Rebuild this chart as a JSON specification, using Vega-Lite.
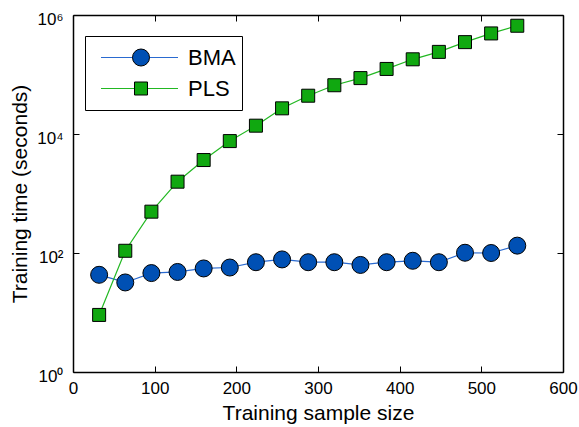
{
  "$schema": "https://vega.github.io/schema/vega-lite/v6.json",
  "width": 490,
  "height": 357,
  "autosize": {"type": "none"},
  "padding": {"left": 73, "top": 15, "right": 16, "bottom": 55},
  "background": "white",
  "config": {
    "font": "Liberation Sans",
    "view": {"stroke": null},
    "axis": {
      "grid": false,
      "domainColor": "black",
      "domainWidth": 1.5,
      "tickColor": "black",
      "tickWidth": 1,
      "tickSize": -6,
      "labelColor": "black",
      "labelFontSize": 17,
      "labelFont": "Liberation Sans",
      "titleFont": "Liberation Sans",
      "titleFontSize": 21,
      "titleFontWeight": "normal",
      "titleColor": "black",
      "labelFlush": false,
      "labelOverlap": false
    }
  },
  "data": {
    "values": [
      {"n": 32, "t": 43, "series": "BMA", "method": "BMA"},
      {"n": 64, "t": 32, "series": "BMA", "method": "BMA"},
      {"n": 96, "t": 46, "series": "BMA", "method": "BMA"},
      {"n": 128, "t": 48, "series": "BMA", "method": "BMA"},
      {"n": 160, "t": 55, "series": "BMA", "method": "BMA"},
      {"n": 192, "t": 57, "series": "BMA", "method": "BMA"},
      {"n": 224, "t": 70, "series": "BMA", "method": "BMA"},
      {"n": 256, "t": 78, "series": "BMA", "method": "BMA"},
      {"n": 288, "t": 70, "series": "BMA", "method": "BMA"},
      {"n": 320, "t": 70, "series": "BMA", "method": "BMA"},
      {"n": 352, "t": 63, "series": "BMA", "method": "BMA"},
      {"n": 384, "t": 70, "series": "BMA", "method": "BMA"},
      {"n": 416, "t": 74, "series": "BMA", "method": "BMA"},
      {"n": 448, "t": 70, "series": "BMA", "method": "BMA"},
      {"n": 480, "t": 101, "series": "BMA", "method": "BMA"},
      {"n": 512, "t": 100, "series": "BMA", "method": "BMA"},
      {"n": 544, "t": 133, "series": "BMA", "method": "BMA"},
      {"n": 32, "t": 9.1, "series": "PLS", "method": "PLS"},
      {"n": 64, "t": 109, "series": "PLS", "method": "PLS"},
      {"n": 96, "t": 495, "series": "PLS", "method": "PLS"},
      {"n": 128, "t": 1580, "series": "PLS", "method": "PLS"},
      {"n": 160, "t": 3650, "series": "PLS", "method": "PLS"},
      {"n": 192, "t": 7600, "series": "PLS", "method": "PLS"},
      {"n": 224, "t": 13800, "series": "PLS", "method": "PLS"},
      {"n": 256, "t": 27000, "series": "PLS", "method": "PLS"},
      {"n": 288, "t": 44000, "series": "PLS", "method": "PLS"},
      {"n": 320, "t": 66000, "series": "PLS", "method": "PLS"},
      {"n": 352, "t": 87000, "series": "PLS", "method": "PLS"},
      {"n": 384, "t": 124000, "series": "PLS", "method": "PLS"},
      {"n": 416, "t": 180000, "series": "PLS", "method": "PLS"},
      {"n": 448, "t": 240000, "series": "PLS", "method": "PLS"},
      {"n": 480, "t": 350000, "series": "PLS", "method": "PLS"},
      {"n": 512, "t": 490000, "series": "PLS", "method": "PLS"},
      {"n": 544, "t": 660000, "series": "PLS", "method": "PLS"}
    ]
  },
  "layer": [
    {
      "mark": {"type": "line", "strokeWidth": 1.2},
      "encoding": {
        "x": {
          "field": "n", "type": "quantitative",
          "scale": {"domain": [0, 600], "nice": false},
          "axis": {"orient": "bottom", "title": "Training sample size", "values": [0, 100, 200, 300, 400, 500, 600], "labelPadding": 14, "titlePadding": 6}
        },
        "y": {
          "field": "t", "type": "quantitative",
          "scale": {"type": "log", "domain": [1, 1000000], "nice": false},
          "axis": {
            "orient": "left",
            "title": "Training time (seconds)",
            "values": [1, 100, 10000, 1000000],
            "labelExpr": "datum.value == 1 ? '10⁰' : datum.value == 100 ? '10²' : datum.value == 10000 ? '10⁴' : '10⁶'",
            "labelPadding": 16,
            "labelOffset": 4,
            "titlePadding": 6
          }
        },
        "color": {
          "field": "series", "type": "nominal",
          "scale": {"range": ["#2a6ad0", "#22b822"]},
          "legend": {
            "title": null,
            "orient": "none",
            "legendX": 12,
            "legendY": 21,
            "padding": 6,
            "clipHeight": 31,
            "rowPadding": 0,
            "symbolType": "stroke",
            "symbolSize": 5929,
            "symbolStrokeWidth": 1.2,
            "symbolOffset": 9,
            "labelOffset": 9,
            "labelFontSize": 22,
            "labelColor": "black",
            "labelFont": "Liberation Sans",
            "labelExpr": "datum.label + '\u2002'",
            "strokeColor": "black"
          }
        }
      }
    },
    {
      "mark": {"type": "point", "filled": true, "opacity": 1, "stroke": "black", "strokeWidth": 1},
      "encoding": {
        "x": {
          "field": "n", "type": "quantitative",
          "axis": {"orient": "top", "title": null, "labels": false, "values": [0, 100, 200, 300, 400, 500, 600]}
        },
        "y": {
          "field": "t", "type": "quantitative",
          "axis": {"orient": "right", "title": null, "labels": false, "values": [1, 100, 10000, 1000000]}
        },
        "fill": {
          "field": "method", "type": "nominal",
          "scale": {"range": ["#0050b4", "#10a810"]},
          "legend": {
            "title": null,
            "orient": "none",
            "legendX": 12,
            "legendY": 21,
            "padding": 6,
            "clipHeight": 31,
            "rowPadding": 0,
            "symbolOffset": 39,
            "symbolStrokeColor": "black",
            "symbolStrokeWidth": 1,
            "labelFontSize": 22,
            "labelExpr": "''"
          }
        },
        "shape": {
          "field": "method", "type": "nominal",
          "scale": {"range": ["circle", "square"]}
        },
        "size": {
          "field": "method", "type": "nominal",
          "scale": {"range": [289, 169]}
        }
      }
    }
  ],
  "resolve": {"axis": {"x": "independent", "y": "independent"}}
}
